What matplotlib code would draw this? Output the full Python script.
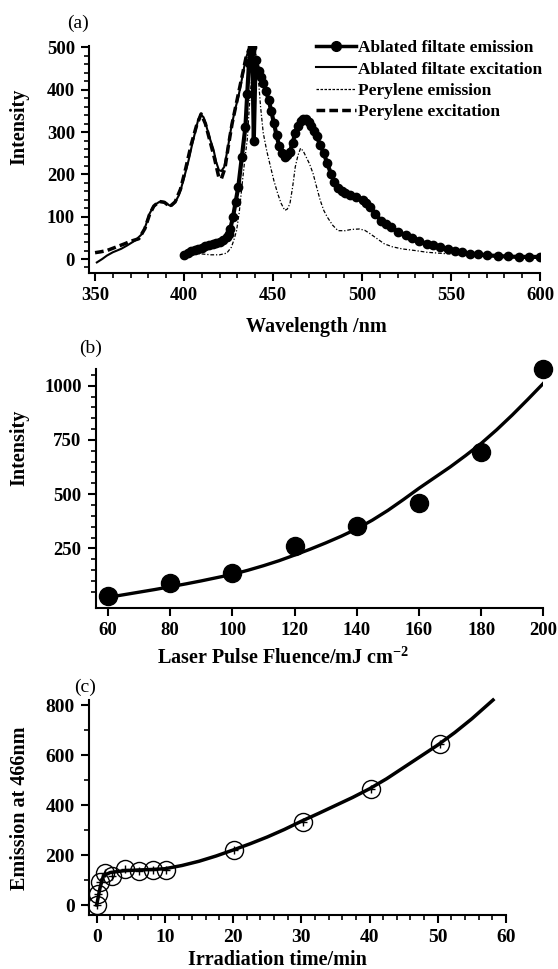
import matplotlib
matplotlib.use("Agg")
import matplotlib.pyplot as plt
from matplotlib.ticker import MultipleLocator, FixedLocator
from matplotlib.lines import Line2D

plt.rcParams['font.family'] = ['Liberation Serif', 'DejaVu Serif']
plt.rcParams['font.weight'] = 'bold'
plt.rcParams['mathtext.fontset'] = 'custom'
plt.rcParams['mathtext.rm'] = 'Liberation Serif:bold'
plt.rcParams['mathtext.bf'] = 'Liberation Serif:bold'

# ---- panel (a): spectra ----
em_x = [400, 402, 404, 406, 408, 410, 412, 414, 416, 418, 420, 422, 424, 425, 426,
        427.5, 429, 430.5, 432.5, 434.5, 435.5, 436.5, 437.5, 438.3, 439.2, 440.2,
        442, 443, 444.5, 446, 447.5, 449, 450.5, 452, 453.5, 455, 456.5, 458, 459.5,
        461, 462.5, 464, 465.5, 467, 468.5, 470, 471.5, 473, 474.5, 476.5, 478.5,
        480.5, 482.5, 484.5, 486.5, 488.5, 490.5, 493, 496.5, 500.5, 502.5, 504.5,
        507.5, 510.5, 513.5, 516.5, 520, 524.5, 528, 532, 536.5, 540, 544, 548.5,
        552, 556, 560.5, 565, 570, 576.5, 582, 588, 594, 600]
em_y = [10, 14, 18, 21, 24, 27, 30, 33, 36, 38, 40, 45, 52, 60, 72,
        99, 135, 171, 242, 313, 390, 464, 492, 500, 280, 470,
        445, 430, 417, 398, 377, 350, 321, 292, 266, 250, 242, 245, 254,
        275, 298, 315, 326, 331, 330, 325, 315, 303, 290, 270, 250,
        226, 202, 183, 167, 160, 155, 151, 147, 139, 132, 123,
        107, 91, 82, 75, 65, 56, 49, 42, 36, 32, 28, 24,
        20, 16, 13, 11, 9, 7, 6, 5, 5, 5]

ex_x = [351, 354, 356.6, 360, 364.6, 368, 372.6, 376.6, 378.5, 380.6, 382.5, 384.6,
        386.5, 388.6, 390.5, 392.6, 394, 395.6, 397, 398.6, 400.5, 402.6, 404.5,
        406.6, 408, 409.6, 411, 412.6, 414.5, 416.6, 418, 419.6, 421, 422.6, 424.5,
        426.6, 428.5, 430.6, 432.5, 434.6, 436, 437.5, 439, 440]
ex_y = [-8, 0, 8, 16, 24, 32, 44, 60, 80, 107, 122, 131,
        136, 135, 130, 125, 130, 139, 150, 171, 200, 234, 270,
        306, 330, 341, 335, 313, 285, 258, 230, 210, 208, 218, 260,
        313, 350, 385, 425, 472, 490, 496, 470, 440]

pem_x = [405, 410, 415, 420, 424, 426.6, 428, 429.5, 431, 432.5, 434, 435.5, 437,
         438.5, 440, 441.5, 443, 444.5, 446.5, 448.6, 450.5, 452.6, 454.5, 456.6,
         458, 459.5, 461, 462.5, 464, 465.5, 467, 468.5, 470.5, 472.5, 474.5, 476.5,
         478.5, 480.5, 483.5, 486.5, 490.5, 494, 498.5, 501.5, 504.5, 508.5, 512.5,
         517, 522.5, 530, 536.5, 546, 556.5, 566, 576.5, 588, 600]
pem_y = [14, 12, 10, 10, 14, 28, 45, 67, 110, 171, 230, 282, 380,
         450, 470, 440, 360, 298, 255, 218, 185, 155, 132, 115,
         118, 131, 170, 218, 245, 262, 255, 242, 225, 202, 170, 139,
         115, 99, 80, 67, 67, 70, 71, 68, 60, 48, 36,
         29, 24, 20, 16, 13, 10, 8, 6, 4, 2]

pex_x = [350, 353, 356.6, 361, 366.6, 370, 374.6, 378, 380.6, 383, 386, 389, 392,
         395, 398, 401, 404, 407, 409.6, 412, 414.5, 417, 419.6, 421, 423, 425, 427,
         429, 431, 433, 435, 437, 438.5, 440]
pex_y = [15, 17, 20, 27, 36, 42, 48, 72, 105, 125, 136, 134, 124,
         135, 165, 215, 270, 315, 343, 320, 280, 240, 192, 190, 215, 270, 320,
         360, 400, 440, 480, 498, 500, 480]

legend_labels = ["Ablated filtate emission", "Ablated filtate excitation",
                 "Perylene emission", "Perylene excitation"]

# ---- panel (b): fluence dependence ----
fluence = [60, 80, 100, 120, 140, 160, 180, 200]
fluence_int = [30, 91, 137, 260, 354, 460, 696, 1077]
fit_b_x = [60, 65, 70, 75, 80, 85, 90, 95, 100, 105, 110, 115, 120, 125, 130, 135,
           140, 145, 150, 155, 160, 165, 170, 175, 180, 185, 190, 195, 200]
fit_b_y = [24, 36, 48, 60, 73, 86, 100, 115, 130, 149, 170, 193, 219, 246, 275, 306,
           340, 380, 425, 475, 527, 576, 625, 678, 734, 797, 865, 937, 1011]

# ---- panel (c): irradiation time ----
time_min = [0, 0.2, 0.5, 1.25, 2.2, 4.1, 6.2, 8.2, 10.2, 20.1, 30.2, 40.2, 50.3]
emission_466 = [2, 44, 91, 127, 117, 143, 135, 140, 140, 220, 333, 464, 643]
fit_c_x = [0, 0.5, 1, 2, 4, 6, 8, 10, 12.5, 15, 17.5, 20, 22.5, 25, 27.5, 30, 32.5,
           35, 37.5, 40, 42.5, 45, 47.5, 50, 52.5, 55, 58.1]
fit_c_y = [0, 70, 118, 130, 137, 140, 142, 145, 158, 175, 196, 220, 245, 272, 302,
           335, 366, 398, 430, 465, 505, 550, 595, 640, 690, 745, 820]

W, H = 558, 969


def rect(x0, x1, y_top, y_bot):
    return [x0 / W, 1 - y_bot / H, (x1 - x0) / W, (y_bot - y_top) / H]


def style_axes(ax, size):
    for s in ['top', 'right']:
        ax.spines[s].set_visible(False)
    for s in ['left', 'bottom']:
        ax.spines[s].set_linewidth(1.5)
    ax.tick_params(which='major', direction='out', length=6, width=1.5,
                   labelsize=size, pad=4)
    ax.tick_params(which='minor', direction='out', length=3.5, width=1.2)


def main():
    fig = plt.figure(figsize=(W / 100, H / 100), dpi=100)

    # (a)
    ax = fig.add_axes(rect(89, 540, 46, 273))
    ax.plot(pex_x, pex_y, color='black', lw=2.5, linestyle=(0, (2.5, 1.2)))
    ax.plot(ex_x, ex_y, color='black', lw=1.5)
    ax.plot(pem_x, pem_y, color='black', lw=0.9, linestyle=(0, (3, 1.5, 1, 1.5)))
    ax.plot(em_x, em_y, color='black', lw=3, marker='o', ms=6)
    ax.set_xlim(346.6, 600)
    ax.set_ylim(-33, 503.5)
    ax.xaxis.set_major_locator(MultipleLocator(50))
    ax.xaxis.set_minor_locator(MultipleLocator(10))
    ax.yaxis.set_major_locator(MultipleLocator(100))
    ax.yaxis.set_minor_locator(MultipleLocator(20))
    style_axes(ax, 13.5)
    handles = [
        Line2D([0, 0.5, 1], [0, 0, 0], color='black', lw=2.5, marker='o', ms=7,
               markevery=[1]),
        Line2D([], [], color='black', lw=1.5),
        Line2D([], [], color='black', lw=0.9, linestyle=(0, (2, 1.2))),
        Line2D([], [], color='black', lw=2.5, linestyle=(0, (2.5, 1.2))),
    ]
    fig.legend(handles, legend_labels, loc='upper left',
               bbox_to_anchor=(316 / W, 1 - 40 / H), frameon=False,
               fontsize=12.5, handlelength=2.3, handletextpad=0.1,
               labelspacing=0.3, borderpad=0, borderaxespad=0)

    # (b)
    ax = fig.add_axes(rect(95.5, 543.4, 369, 608))
    ax.plot(fit_b_x, fit_b_y, color='black', lw=2.4)
    ax.plot(fluence, fluence_int, 'o', color='black', ms=13, clip_on=False)
    ax.set_xlim(56, 200)
    ax.set_ylim(-25, 1077)
    ax.xaxis.set_major_locator(MultipleLocator(20))
    ax.yaxis.set_major_locator(FixedLocator([250, 500, 750, 1000]))
    ax.yaxis.set_minor_locator(FixedLocator([v for v in range(50, 1100, 50) if v % 250]))
    style_axes(ax, 13.5)

    # (c)
    ax = fig.add_axes(rect(88.5, 506, 700, 915))
    ax.plot(fit_c_x, fit_c_y, color='black', lw=2.5, clip_on=False)
    ax.plot(time_min, emission_466, 'o', mfc='none', mec='black', mew=1.0, ms=13,
            clip_on=False)
    ax.plot(time_min, emission_466, '+', color='black', mew=1.0, ms=6, clip_on=False)
    ax.set_xlim(-1.2, 60)
    ax.set_ylim(-40, 820)
    ax.xaxis.set_major_locator(MultipleLocator(10))
    ax.xaxis.set_minor_locator(MultipleLocator(2))
    ax.yaxis.set_major_locator(MultipleLocator(200))
    ax.yaxis.set_minor_locator(MultipleLocator(100))
    style_axes(ax, 14)

    # axis labels and panel letters
    def ftext(x, y, s, **kw):
        fig.text(x / W, 1 - y / H, s, ha='center', va='center', **kw)

    ftext(316.7, 327, "Wavelength /nm", fontsize=14.5)
    ftext(282.6, 658, "Laser Pulse Fluence/mJ cm$^{-2}$", fontsize=14.5)
    ftext(277, 960, "Irradiation time/min", fontsize=14.5)
    ftext(19.6, 126.7, "Intensity", fontsize=14.5, rotation=90)
    ftext(19.6, 447.5, "Intensity", fontsize=14.5, rotation=90)
    ftext(19.6, 808, "Emission at 466nm", fontsize=14.5, rotation=90)
    ftext(78, 23, "(a)", fontsize=14, fontweight='normal')
    ftext(90.7, 348, "(b)", fontsize=14, fontweight='normal')
    ftext(85.4, 687, "(c)", fontsize=14, fontweight='normal')

    fig.savefig("out.png", dpi=100)


if __name__ == "__main__":
    main()
